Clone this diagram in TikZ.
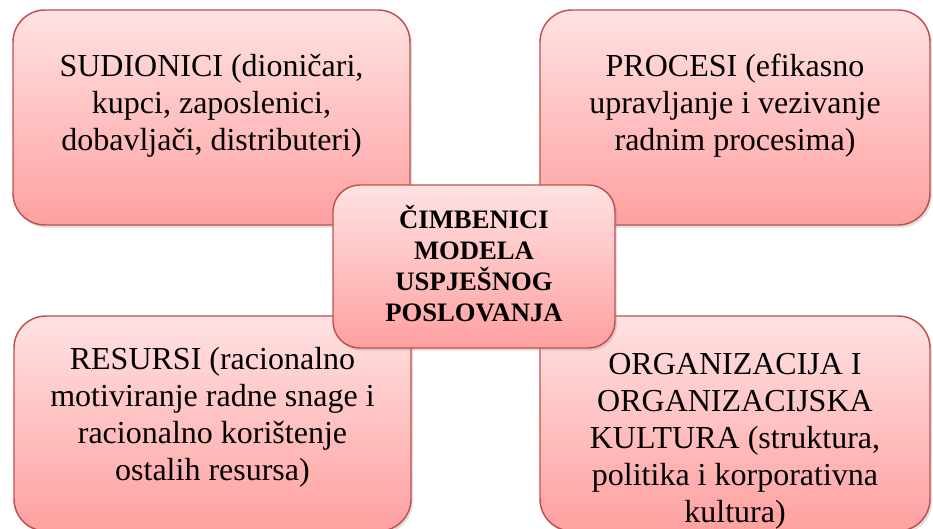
\documentclass[tikz,border=0pt]{standalone}
\usepackage{fontspec}
\setmainfont{Liberation Serif}
\usetikzlibrary{shadows}
\definecolor{boxtop}{RGB}{255,226,226}
\definecolor{boxbot}{RGB}{255,160,160}
\definecolor{boxline}{RGB}{192,80,77}
\newcommand*{\px  }{0.75pt}
\newcommand*{\bigw}{397*\px}
\newcommand*{\bigh}{215*\px}
\newcommand*{\midw}{282*\px}
\newcommand*{\midh}{163*\px}

\begin{document}
\begin{tikzpicture}[x=0.75pt, y=-0.75pt,
    factor/.style={rectangle, draw=boxline, line width=1.1pt, rounded corners=24pt,
        top color=boxtop, bottom color=boxbot, inner sep=0pt,
        drop shadow={opacity=0.25, shadow xshift=1.5pt, shadow yshift=-2pt}},
    factortext/.style={align=center, font=\rmfamily\fontsize{24}{27.75}\selectfont},
    coretext/.style={align=center, font=\rmfamily\fontsize{20}{23.25}\selectfont\bfseries}]
    \useasboundingbox (0,0) rectangle (933,529);
    % corner boxes
    \node [factor, minimum width=\bigw, minimum height=\bigh] (sudionici) at (211.5,117.5) {};
    \node [factor, minimum width=390*\px, minimum height=\bigh] (procesi) at (735,117.5) {};
    \node [factor, minimum width=\bigw, minimum height=\bigh] (resursi) at (212.5,423.5) {};
    \node [factor, minimum width=390*\px, minimum height=\bigh] (organizacija) at (735,423.5) {};
    \node [factortext] (sudionicitxt) at ([yshift=9pt]sudionici.center)
        {SUDIONICI (dioničari,\\ kupci, zaposlenici,\\ dobavljači, distributeri)};
    \node [factortext] (procesitxt) at ([yshift=9pt]procesi.center)
        {PROCESI (efikasno\\ upravljanje i vezivanje\\ radnim procesima)};
    \node [factortext] (resursitxt) at ([yshift=4.5pt]resursi.center)
        {RESURSI (racionalno\\ motiviranje radne snage i\\ racionalno korištenje\\ ostalih resursa)};
    \node [factortext] (organizacijatxt) at ([yshift=-13pt]organizacija.center)
        {ORGANIZACIJA I\\ ORGANIZACIJSKA\\ KULTURA (struktura,\\ politika i korporativna\\ kultura)};
    % centre box
    \node [factor, rounded corners=20pt, minimum width=\midw, minimum height=\midh] (cimbenici) at (474,266.5) {};
    \node [coretext] (cimbenicitxt) at ([yshift=2pt]cimbenici.center)
        {ČIMBENICI\\ MODELA\\ USPJEŠNOG\\ POSLOVANJA};
\end{tikzpicture}
\end{document}
